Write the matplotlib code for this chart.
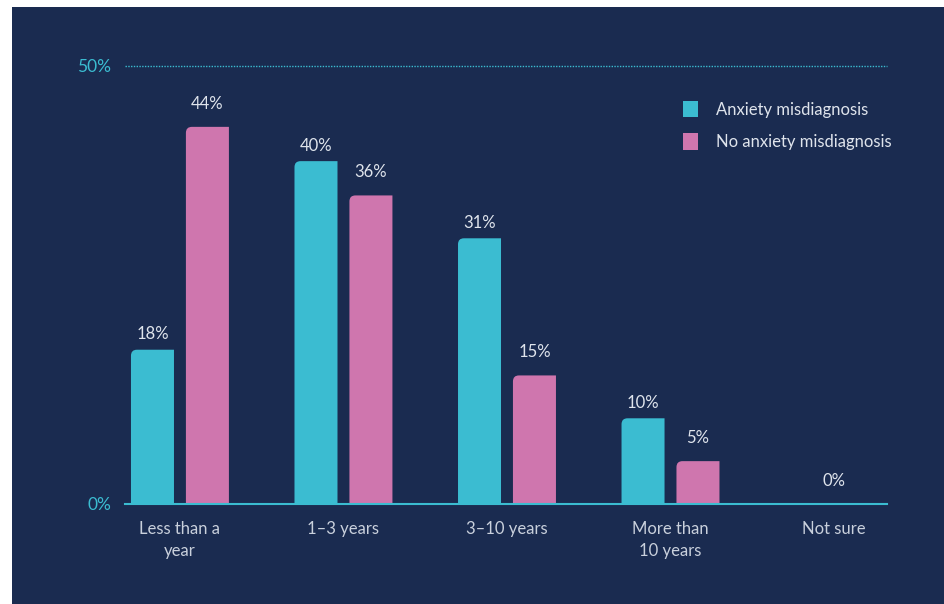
import matplotlib
matplotlib.use("Agg")
import matplotlib.pyplot as plt
from matplotlib.patches import Rectangle, Patch, PathPatch
from matplotlib.path import Path
import numpy as np

categories = ["Less than a\nyear", "1\u20133 years", "3\u201310 years", "More than\n10 years", "Not sure"]
anxiety = [18, 40, 31, 10, 0]
no_anxiety = [44, 36, 15, 5, 0]
series_names = ["Anxiety misdiagnosis", "No anxiety misdiagnosis"]

BG = "#1a2b50"
CYAN = "#3bbcd1"
PINK = "#cf76ae"
TEXT = "#dfe4ec"
TICK = "#c9d0dc"

plt.rcParams["font.family"] = ["Lato", "DejaVu Sans"]

fig = plt.figure(figsize=(9.44, 6.04), dpi=100)
fig.patch.set_facecolor("white")
# navy panel, leaving a thin white strip on the left and top
fig.patches.append(Rectangle((12 / 944, 0), 1, 1 - 7 / 604, transform=fig.transFigure,
                             facecolor=BG, edgecolor="none", zorder=-10))

ax = fig.add_axes([125 / 944, 100 / 604, 762 / 944, 438 / 604])
ax.set_facecolor("none")
ymax = 51.1
ax.set_xlim(-0.336, 4.324)
ax.set_ylim(0, ymax)

x = np.arange(len(categories))
width = 0.263
offset = 0.168


def rounded_bar(ax, xc, h, w, color, r_px=6):
    # bar with only the top-left corner rounded
    if h <= 0:
        return
    p0 = ax.transData.transform((0, 0))
    p1 = ax.transData.transform((1, 1))
    rx = r_px / (p1[0] - p0[0])
    ry = r_px / (p1[1] - p0[1])
    ry = min(ry, h)
    x0, x1 = xc - w / 2, xc + w / 2
    verts = [(x0, 0), (x1, 0), (x1, h), (x0 + rx, h),
             (x0, h), (x0, h - ry), (x0, 0)]
    codes = [Path.MOVETO, Path.LINETO, Path.LINETO, Path.LINETO,
             Path.CURVE3, Path.CURVE3, Path.CLOSEPOLY]
    ax.add_patch(PathPatch(Path(verts, codes), facecolor=color, edgecolor="none", zorder=3))


for i in range(len(categories)):
    rounded_bar(ax, x[i] - offset, anxiety[i], width, CYAN)
    rounded_bar(ax, x[i] + offset, no_anxiety[i], width, PINK)
    if anxiety[i] == 0 and no_anxiety[i] == 0:
        ax.annotate("0%", (x[i], 0), xytext=(0, 10.5), textcoords="offset points",
                    ha="center", va="bottom", color=TEXT, fontsize=12)
        continue
    ax.annotate(f"{anxiety[i]}%", (x[i] - offset, anxiety[i]), xytext=(0, 5.5),
                textcoords="offset points", ha="center", va="bottom", color=TEXT, fontsize=12)
    ax.annotate(f"{no_anxiety[i]}%", (x[i] + offset, no_anxiety[i]), xytext=(0, 11),
                textcoords="offset points", ha="center", va="bottom", color=TEXT, fontsize=12)

# top gridline and baseline
ax.axhline(ymax, color=CYAN, lw=1, ls=(0, (1, 1)), zorder=1, clip_on=False)
ax.axhline(0, color=CYAN, lw=1.5, zorder=4, clip_on=False)

for s in ax.spines.values():
    s.set_visible(False)

ax.set_yticks([0, ymax])
ax.set_yticklabels(["0%", "50%"])
ax.tick_params(axis="y", length=0, pad=10, labelcolor=CYAN, labelsize=12.5)
ax.set_xticks(x)
ax.set_xticklabels(categories, linespacing=1.45)
ax.tick_params(axis="x", length=0, pad=12, labelcolor=TICK, labelsize=12)

handles = [Patch(facecolor=CYAN, edgecolor="none"), Patch(facecolor=PINK, edgecolor="none")]
leg = ax.legend(handles, series_names, loc="upper left", bbox_to_anchor=(0.712, 0.955),
                frameon=False, fontsize=12, labelcolor=TEXT, handlelength=0.9,
                handleheight=1.15, handletextpad=1.1, labelspacing=0.95)

fig.savefig("out.png", dpi=100, facecolor=fig.get_facecolor())
